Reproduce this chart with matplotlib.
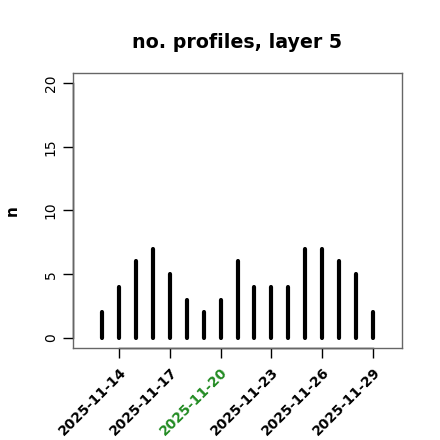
import matplotlib
matplotlib.use("Agg")
import matplotlib.pyplot as plt
import matplotlib.dates as mdates
import pandas as pd

# data
dates = pd.date_range("2025-11-13", "2025-11-29", freq="D")
counts = [2, 4, 6, 7, 5, 3, 2, 3, 6, 4, 4, 4, 7, 7, 6, 5, 2]
tick_dates = pd.to_datetime(["2025-11-14", "2025-11-17", "2025-11-20",
                             "2025-11-23", "2025-11-26", "2025-11-29"])
tick_labels = [d.strftime("%Y-%m-%d") for d in tick_dates]
highlight = "2025-11-20"
yticks = [0, 5, 10, 15, 20]


def main():
    fig = plt.figure(figsize=(4.4, 4.4), dpi=100)
    ax = fig.add_axes([73 / 440, 92 / 440, 329 / 440, 275 / 440])

    x = mdates.date2num(dates)
    # type="h" style spikes
    for xi, ci in zip(x, counts):
        ax.plot([xi, xi], [0, ci], color="black", linewidth=3,
                solid_capstyle="round")

    x0 = x[0] - 1.72
    x1 = x[-1] + 1.72
    ax.set_xlim(x0, x1)
    ax.set_ylim(-0.8, 20.8)

    for s in ax.spines.values():
        s.set_color("#666666")
        s.set_linewidth(1)

    # R-style axis lines
    tx = mdates.date2num(tick_dates)
    ax.plot([x0, x0], [0, 20], color="black", lw=1, clip_on=False)
    ax.plot([tx[0], tx[-1]], [-0.8, -0.8], color="black", lw=1, clip_on=False)

    ax.set_yticks(yticks)
    ax.set_yticklabels([str(v) for v in yticks], rotation=90, va="center",
                       fontsize=10)
    ax.set_xticks(tx)
    ax.set_xticklabels(tick_labels, rotation=45, ha="right",
                       rotation_mode="anchor", fontsize=10, fontweight="bold")
    for lab in ax.get_xticklabels():
        if lab.get_text() == highlight:
            lab.set_color("#228B22")
    ax.tick_params(axis="both", direction="out", length=7, width=1,
                   color="black", pad=4)
    ax.tick_params(axis="x", pad=5)

    ax.set_title("no. profiles, layer 5", fontsize=13.7, fontweight="bold",
                 pad=18)
    ax.set_ylabel("n", fontsize=11, fontweight="bold", labelpad=17)

    fig.savefig("out.png", dpi=100)


if __name__ == "__main__":
    main()
